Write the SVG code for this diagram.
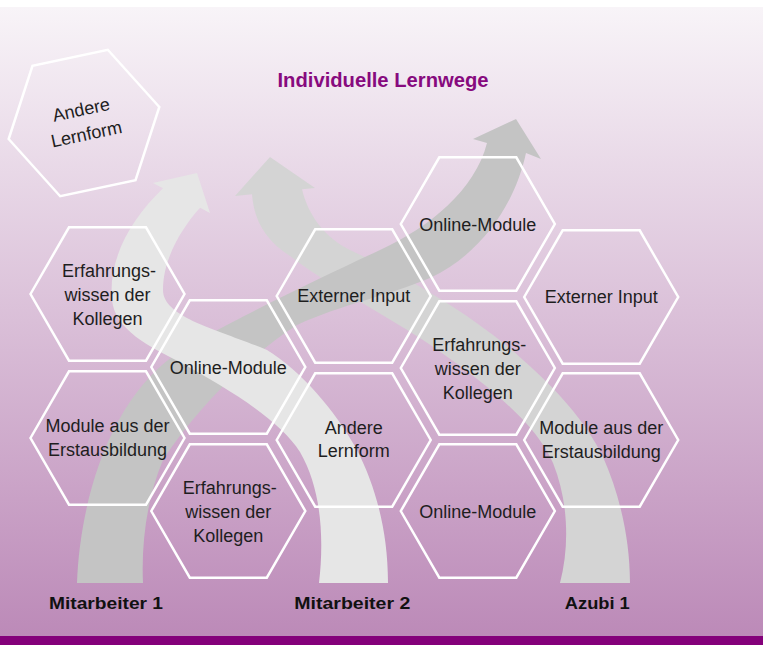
<svg xmlns="http://www.w3.org/2000/svg" xmlns:xlink="http://www.w3.org/1999/xlink" width="763" height="645" viewBox="0 0 763 645">
  <defs>
    <linearGradient id="bg" gradientUnits="userSpaceOnUse" x1="0" y1="7" x2="0" y2="636">
      <stop offset="0" stop-color="#f8f4f8"/>
      <stop offset="1" stop-color="#bc8ab8"/>
    </linearGradient>
    <polygon id="hex" points="-77,0 -38.5,-66.7 38.5,-66.7 77,0 38.5,66.7 -38.5,66.7"/>
    <style>
      .hx { fill: none; stroke: #ffffff; stroke-width: 2.5; stroke-linejoin: miter; }
      .t { font-family: "Liberation Sans", Arial, sans-serif; font-size: 18px; fill: #1e1e1e; text-anchor: middle; }
      .lbl { font-family: "Liberation Sans", Arial, sans-serif; font-size: 17px; font-weight: bold; fill: #111111; text-anchor: middle; }
      .title { font-family: "Liberation Sans", Arial, sans-serif; font-size: 20px; font-weight: bold; fill: #870a7e; text-anchor: middle; }
    </style>
  </defs>

  <rect x="0" y="0" width="763" height="645" fill="#ffffff"/>
  <rect x="0" y="7" width="763" height="629" fill="url(#bg)"/>
  <rect x="0" y="636" width="763" height="9" fill="#84007a"/>

  <g id="connectors">
    <path id="arrow-azubi1" fill="#d4d4d4" d="M560,583 C570,545 568,500 553,463 C535,420 475,375 423,340 C380,312 320,280 290,256 C265,240 254,220 252,194.3 L235,196 L270,157 L315,188 L302,189.3 C308,215 325,238 350,250 C410,278 480,320 523,360 C555,388 585,420 603,457 C620,495 630,540 630,583 Z"/>
    <path id="arrow-mitarbeiter1" fill="#c4c4c4" d="M77,583 C80,500 110,400 175,355 C215,328 320,278 380,250 C430,227 475,190 487,143 L473,139 L516,119 L541,159 L526,153 C515,205 480,255 430,278 C390,295 340,305 297,325 C250,355 195,410 163,460 C148,495 141,540 143,583 Z"/>
    <path id="arrow-mitarbeiter2" fill="#e6e6e6" d="M319,583 C324,540 322,490 300,452 C280,420 230,390 180,362 C150,347 115,330 112,300 C108,260 130,220 163,188.3 L153,183 L197,173 L210,213 L200,207.7 C180,230 163,260 163,290 C163,318 220,330 267,350 C300,370 335,410 357,450 C375,485 388,530 388,583 Z"/>
  </g>

  <g id="node-andere-lernform-top" transform="translate(84,123) rotate(-12)">
    <use xlink:href="#hex" href="#hex" class="hx"/>
    <text class="t" x="0" y="-7.5">Andere</text>
    <text class="t" x="0" y="17.5">Lernform</text>
  </g>

  <g id="node-m1-erfahrung">
    <use xlink:href="#hex" href="#hex" class="hx" x="107.5" y="294"/>
    <text class="t" x="109" y="277">Erfahrungs-</text>
    <text class="t" x="107.5" y="301">wissen der</text>
    <text class="t" x="107.5" y="325">Kollegen</text>
  </g>
  <g id="node-m1-module">
    <use xlink:href="#hex" href="#hex" class="hx" x="107.5" y="438"/>
    <text class="t" x="107.5" y="432">Module aus der</text>
    <text class="t" x="107.5" y="456">Erstausbildung</text>
  </g>
  <g id="node-c2-online">
    <use xlink:href="#hex" href="#hex" class="hx" x="228.3" y="367"/>
    <text class="t" x="228.3" y="374">Online-Module</text>
  </g>
  <g id="node-c2-erfahrung">
    <use xlink:href="#hex" href="#hex" class="hx" x="228.3" y="511"/>
    <text class="t" x="229.8" y="494">Erfahrungs-</text>
    <text class="t" x="228.3" y="518">wissen der</text>
    <text class="t" x="228.3" y="542">Kollegen</text>
  </g>
  <g id="node-c3-extern">
    <use xlink:href="#hex" href="#hex" class="hx" x="353.7" y="296"/>
    <text class="t" x="353.7" y="302">Externer Input</text>
  </g>
  <g id="node-c3-andere">
    <use xlink:href="#hex" href="#hex" class="hx" x="353.7" y="440"/>
    <text class="t" x="353.7" y="433.5">Andere</text>
    <text class="t" x="353.7" y="457">Lernform</text>
  </g>
  <g id="node-c4-online-top">
    <use xlink:href="#hex" href="#hex" class="hx" x="477.8" y="224"/>
    <text class="t" x="477.8" y="231">Online-Module</text>
  </g>
  <g id="node-c4-erfahrung">
    <use xlink:href="#hex" href="#hex" class="hx" x="477.8" y="368"/>
    <text class="t" x="479.3" y="351">Erfahrungs-</text>
    <text class="t" x="477.8" y="375">wissen der</text>
    <text class="t" x="477.8" y="399">Kollegen</text>
  </g>
  <g id="node-c4-online-bottom">
    <use xlink:href="#hex" href="#hex" class="hx" x="477.8" y="511"/>
    <text class="t" x="477.8" y="518">Online-Module</text>
  </g>
  <g id="node-c5-extern">
    <use xlink:href="#hex" href="#hex" class="hx" x="601.2" y="297"/>
    <text class="t" x="601.2" y="303">Externer Input</text>
  </g>
  <g id="node-c5-module">
    <use xlink:href="#hex" href="#hex" class="hx" x="601.2" y="440"/>
    <text class="t" x="601.2" y="433.5">Module aus der</text>
    <text class="t" x="601.2" y="458">Erstausbildung</text>
  </g>

  <text id="title" class="title" x="383" y="87" textLength="211" lengthAdjust="spacingAndGlyphs">Individuelle Lernwege</text>
  <g id="labels">
    <text class="lbl" x="106" y="609" textLength="114" lengthAdjust="spacingAndGlyphs">Mitarbeiter 1</text>
    <text class="lbl" x="352.3" y="609" textLength="116" lengthAdjust="spacingAndGlyphs">Mitarbeiter 2</text>
    <text class="lbl" x="597.3" y="609" textLength="65" lengthAdjust="spacingAndGlyphs">Azubi 1</text>
  </g>
</svg>
